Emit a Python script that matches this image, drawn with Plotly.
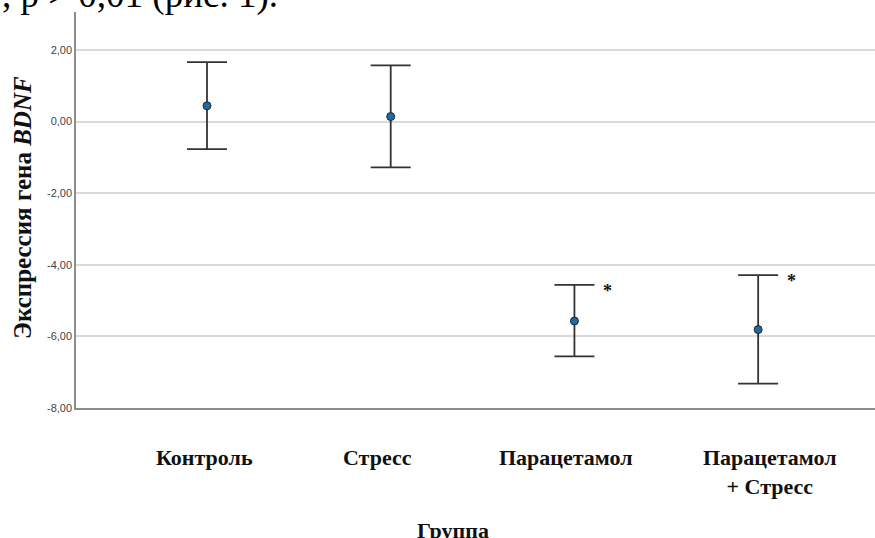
import plotly.graph_objects as go

# ---- data ----
groups = ["Контроль", "Стресс", "Парацетамол", "Парацетамол<br>+ Стресс"]
means = [0.44, 0.14, -5.57, -5.81]
upper = [1.66, 1.57, -4.56, -4.29]
lower = [-0.77, -1.28, -6.56, -7.32]
signif = ["", "", "*", "*"]
ytick_vals = [-8, -6, -4, -2, 0, 2]
ytick_text = ["-8,00", "-6,00", "-4,00", "-2,00", "0,00", "2,00"]

xpos = list(range(len(groups)))
err_plus = [u - m for u, m in zip(upper, means)]
err_minus = [m - l for m, l in zip(means, lower)]

fig = go.Figure()
fig.add_trace(go.Scatter(
    x=xpos, y=means, mode="markers",
    marker=dict(size=8, color="#1f6aa5", line=dict(color="#1a2733", width=1)),
    error_y=dict(type="data", symmetric=False, array=err_plus, arrayminus=err_minus,
                 color="#333333", thickness=1.8, width=20),
    showlegend=False, hoverinfo="skip",
))

serif = "Liberation Serif, Times New Roman, serif"
label_shift = [-2, -13, -8, 12]
annotations = []
for i, g in enumerate(groups):
    annotations.append(dict(
        x=i, y=0, xref="x", yref="paper", xanchor="center", yanchor="top",
        xshift=label_shift[i], yshift=-35, text="<b>" + g + "</b>", showarrow=False,
        font=dict(family=serif, size=22, color="#111111"),
    ))
    if signif[i]:
        annotations.append(dict(
            x=i, y=upper[i], xref="x", yref="y", xanchor="center", yanchor="middle",
            xshift=33, yshift=-6, text="<b>" + signif[i] + "</b>", showarrow=False,
            font=dict(family=serif, size=18, color="#111111"),
        ))

annotations.append(dict(
    x=(453 - 76) / 799, y=0, xref="paper", yref="paper", xanchor="center", yanchor="top",
    yshift=-108, text="<b>Группа</b>", showarrow=False,
    font=dict(family=serif, size=22, color="#111111"),
))
annotations.append(dict(
    x=(22 - 76) / 799, y=0.505, xref="paper", yref="paper", xanchor="center", yanchor="middle",
    text="<b>Экспрессия гена <i>BDNF</i></b>", textangle=-90, showarrow=False,
    font=dict(family=serif, size=25, color="#111111"),
))
annotations.append(dict(
    x=(0 - 76) / 799, y=1, xref="paper", yref="paper", xanchor="left", yanchor="bottom",
    yshift=-6, text=", p > 0,01 (рис. 1).", showarrow=False,
    font=dict(family=serif, size=37, color="#000000"),
))

fig.update_layout(
    width=875, height=538,
    margin=dict(l=76, r=0, t=12, b=130),
    paper_bgcolor="white", plot_bgcolor="white",
    annotations=annotations,
    xaxis=dict(range=[-0.713, 3.636], showticklabels=False, showgrid=False, zeroline=False,
               showline=True, linecolor="#8c8c8c", linewidth=1.5, tickvals=xpos, ticks=""),
    yaxis=dict(range=[-8, 3.06], tickvals=ytick_vals, ticktext=ytick_text, showgrid=True,
               gridcolor="#d9d9d9", gridwidth=1.5, zeroline=False, showline=True,
               linecolor="#8c8c8c", linewidth=1.5, ticks="",
               tickfont=dict(family="Liberation Sans, Arial, sans-serif", size=11, color="#444444")),
)

fig.write_html("out.html", config={"displayModeBar": False},
               post_script="document.body.style.margin='0';document.body.style.overflow='hidden';")
